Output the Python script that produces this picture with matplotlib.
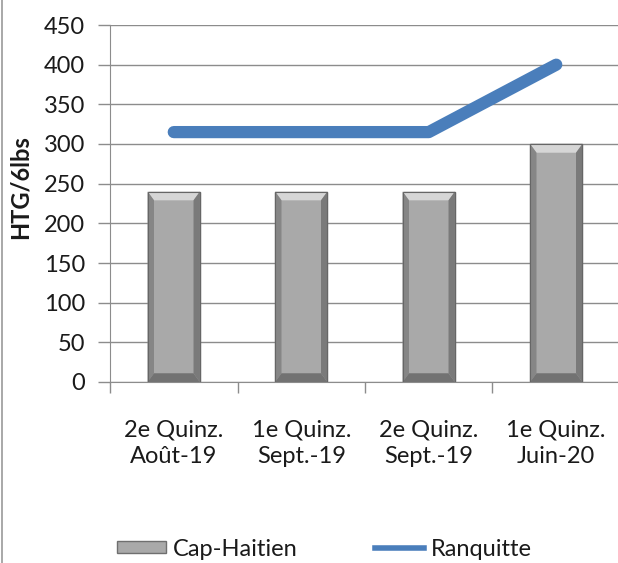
import numpy as np
import matplotlib
matplotlib.use("Agg")
import matplotlib.pyplot as plt
from matplotlib.patches import Polygon, Rectangle
from matplotlib.lines import Line2D

plt.rcParams['font.family'] = ['Lato', 'DejaVu Sans']

# data
categories = ["2e Quinz.\nAoût-19", "1e Quinz.\nSept.-19",
              "2e Quinz.\nSept.-19", "1e Quinz.\nJuin-20"]
cap_haitien = [240, 240, 240, 300]
ranquitte = [315, 315, 315, 400]

BAR_FACE = '#a9a9a9'
LINE_BLUE = '#4a7ebb'
GRID = '#8c8c8c'

W, H = 618, 563
fig = plt.figure(figsize=(W / 100, H / 100), dpi=100)
ax = fig.add_axes([110 / W, (H - 382) / H, 510 / W, (382 - 25) / H])

x = np.arange(len(categories))
bar_w = 0.41
bars = ax.bar(x, cap_haitien, width=bar_w, color=BAR_FACE,
              edgecolor='#6f6f6f', linewidth=1.0, zorder=2)

# bevel look on each bar
bx, by = 0.05, 11
for rect in bars:
    x0 = rect.get_x()
    x1 = x0 + rect.get_width()
    h = rect.get_height()
    pieces = [
        ([(x0, h), (x1, h), (x1 - bx, h - by), (x0 + bx, h - by)], '#d6d6d6'),
        ([(x0, 0), (x0, h), (x0 + bx, h - by), (x0 + bx, by)], '#868686'),
        ([(x1, 0), (x1, h), (x1 - bx, h - by), (x1 - bx, by)], '#7a7a7a'),
        ([(x0, 0), (x1, 0), (x1 - bx, by), (x0 + bx, by)], '#727272'),
    ]
    for pts, c in pieces:
        ax.add_patch(Polygon(pts, closed=True, facecolor=c, edgecolor='none', zorder=2.5))
    ax.add_patch(Rectangle((x0, 0), x1 - x0, h, fill=False, edgecolor='#666666',
                           linewidth=0.8, zorder=2.6))

ax.plot(x, ranquitte, color=LINE_BLUE, linewidth=8.8, solid_capstyle='round',
        solid_joinstyle='round', zorder=3)

ax.set_xlim(-0.5, 3.5)
ax.set_ylim(0, 450)
ax.set_yticks(np.arange(0, 451, 50))
ax.yaxis.grid(True, color=GRID, linewidth=1.0)
ax.set_axisbelow(True)

ax.set_xticks(x)
ax.set_xticklabels(categories, fontsize=17, color='#1a1a1a', linespacing=1.3)
ax.set_xticks(np.arange(-0.5, 3.0, 1.0), minor=True)
ax.tick_params(axis='x', which='major', length=0, pad=27)
ax.tick_params(axis='x', which='minor', length=8, color=GRID, width=1.0)
ax.tick_params(axis='y', length=9, color=GRID, width=1.0, labelsize=17,
               labelcolor='#1a1a1a', pad=9)

for side in ['top', 'right']:
    ax.spines[side].set_visible(False)
ax.spines['left'].set_color(GRID)
ax.spines['bottom'].set_color(GRID)

fig.text(20 / W, 1 - 187 / H, 'HTG/6lbs', rotation=90, fontsize=17,
         fontweight='bold', ha='center', va='center', color='#1a1a1a')

# chart frame on the left
fig.add_artist(Line2D([2 / W, 2 / W], [0, 1], transform=fig.transFigure,
                      color='#9a9a9a', linewidth=1.2))

handles = [Rectangle((0, 0), 1, 1, facecolor=BAR_FACE, edgecolor='#6f6f6f', linewidth=1.0),
           Line2D([], [], color=LINE_BLUE, linewidth=4)]
fig.legend(handles, ['Cap-Haitien', 'Ranquitte'], ncol=2, loc='center left',
           bbox_to_anchor=(96 / W, 1 - 549 / H), frameon=False, fontsize=17,
           handlelength=2.05, handleheight=0.35, handletextpad=0.3,
           columnspacing=3.3, labelcolor='#1a1a1a')

fig.savefig('out.png', dpi=100)
